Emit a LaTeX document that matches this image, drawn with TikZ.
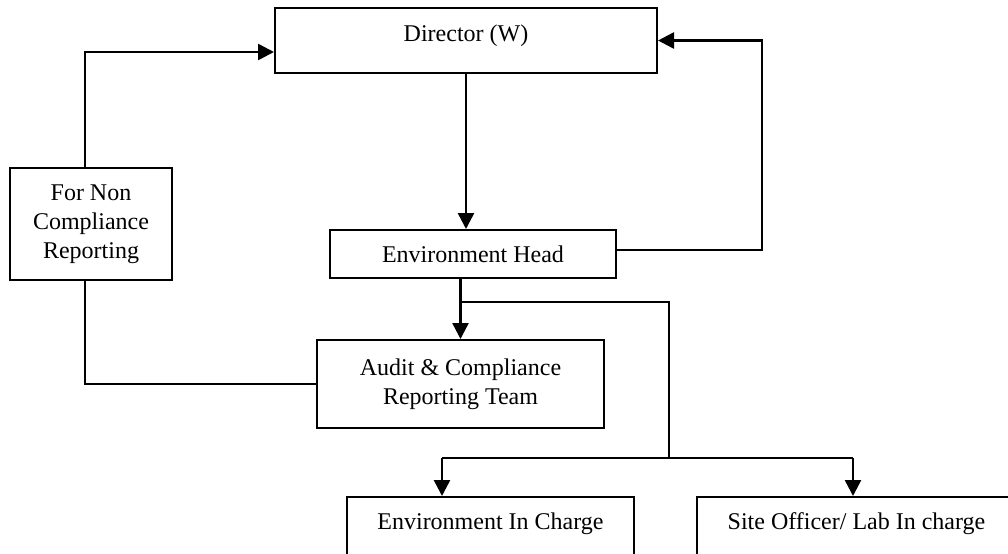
\documentclass[tikz,border=0pt]{standalone}
\usepackage{fontspec}
\setmainfont{Liberation Serif}
\usetikzlibrary{arrows.meta}
\tikzset{
  box/.style={draw, line width=1pt, align=center, inner xsep=0pt, inner ysep=0pt,
              font=\fontsize{12}{14.4}\selectfont},
  wire/.style={line width=1pt},
  link/.style={line width=1.25pt, -{Triangle[length=8pt,width=8pt]}},
  branch/.style={line width=0.55pt}
}
\begin{document}
\begin{tikzpicture}[x=0.5pt,y=-0.5pt]
  \useasboundingbox (0,0) rectangle (1008,553);
  \clip (0,0) rectangle (1008,553);

  \node[box, anchor=north, minimum width=191pt, text height=16.8pt, text depth=15.7pt] (dir) at (466,7) {Director (W)};
  \node[box, minimum width=143pt, minimum height=24pt] (head) at (473,254) {Environment Head};
  \node[box, minimum width=81pt, minimum height=56pt] (nonc) at (91,224) {For Non\\Compliance\\Reporting};
  \node[box, minimum width=143.5pt, minimum height=44pt] (audit) at (460.5,384) {Audit \& Compliance\\Reporting Team};
  \node[box, anchor=north, minimum width=143.5pt, text height=16pt, text depth=40pt] (encharge) at (490.5,496) {Environment In Charge};
  \node[box, anchor=north, minimum width=159.5pt, text height=16pt, text depth=40pt] (siteoff) at (856.5,496) {Site Officer/ Lab In charge};

  % reporting lines
  \draw[link] (dir.south) -- (dir.south |- head.north);
  \draw[link] ([xshift=-3pt]nonc.north) |- ([yshift=-5.75pt]dir.west);
  \draw[link] ([yshift=2pt]head.east) -- ++(145,0) |- (dir.east);
  \draw[wire] ([xshift=-3pt]nonc.south) |- (audit.west);
  \draw[link] (audit.north |- head.south) -- (audit.north);

  % branch to site staff
  \coordinate (tap) at (460.5,302);
  \coordinate (fork) at (669,458);
  \coordinate (lefttip) at ([xshift=-24.25pt]encharge.north);
  \coordinate (righttip) at ([xshift=-1.75pt]siteoff.north);
  \draw[branch] (tap) -| (fork);
  \draw[branch] (lefttip |- fork) -- (righttip |- fork);
  \draw[link] (lefttip |- fork) -- (lefttip);
  \draw[link] (righttip |- fork) -- (righttip);
\end{tikzpicture}
\end{document}
